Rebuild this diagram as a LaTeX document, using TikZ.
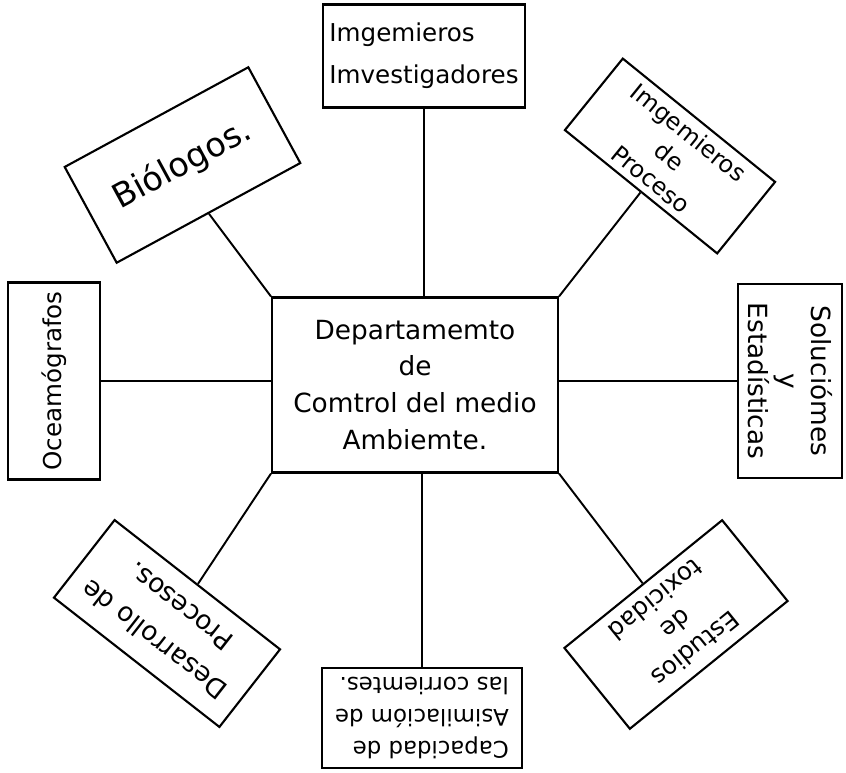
\documentclass[tikz,border=0pt]{standalone}
\usepackage{fontspec}
\setmainfont{DejaVu Sans}

\tikzset{
  cuadro/.style={draw, line width=1.2pt, inner sep=2pt, align=center, font=\fontsize{12.5}{17}\selectfont},
  linea/.style={line width=1.1pt}
}

\begin{document}
\begin{tikzpicture}[x=0.02cm, y=0.02cm]
    \useasboundingbox (0,0) rectangle (846,772);

    \node[cuadro, minimum width=5.72cm, minimum height=3.5cm, font=\fontsize{15}{21}\selectfont] (depto) at (415,387) {Departamemto\\de\\Comtrol del medio\\Ambiemte.};

    \node[cuadro, minimum width=4.04cm, minimum height=2.06cm, align=left, font=\fontsize{14}{24}\selectfont] (invest) at (424,716) {Imgemieros\\Imvestigadores};
    \node[cuadro, rotate=-39, minimum width=3.92cm, minimum height=1.84cm, font=\fontsize{13.5}{17}\selectfont] (proceso) at (670,616) {Imgemieros\\de\\Proceso};
    \node[cuadro, rotate=-90, minimum width=3.88cm, minimum height=2.08cm, font=\fontsize{15}{18}\selectfont] (soluc) at (790,391) {Soluciómes\\y\\Estadísticas};
    \node[cuadro, rotate=90, minimum width=3.94cm, minimum height=1.84cm, font=\fontsize{14}{16}\selectfont] (oceano) at (54,391) {Oceamógrafos};
    \node[cuadro, rotate=28.5, minimum width=4.18cm, minimum height=2.18cm, font=\fontsize{19}{22}\selectfont] (biolog) at (182.5,607) {Biólogos.};
    \node[cuadro, rotate=219, minimum width=4.06cm, minimum height=2.08cm, font=\fontsize{14}{18}\selectfont] (toxic) at (676,147.5) {Estudios\\de\\toxicidad};
    \node[cuadro, rotate=180, minimum width=4cm, minimum height=2cm, align=left, font=\fontsize{13}{18}\selectfont] (capac) at (422,54) {Capacidad de\\Asimilacióm de\\las corriemtes.};
    \node[cuadro, rotate=142, minimum width=4.2cm, minimum height=1.97cm, font=\fontsize{15}{24}\selectfont] (desarr) at (167,148.5) {Desarrollo de\\Procesos.};

    \draw[linea] (biolog.south) -- (depto.north west);
    \draw[linea] (invest.south) -- (invest.south |- depto.north);
    \draw[linea] (proceso.south) -- (depto.north east);
    \draw[linea] (soluc.south) -- (soluc.south -| depto.east);
    \draw[linea] (oceano.south) -- (oceano.south -| depto.west);
    \draw[linea] (toxic.south) -- (depto.south east);
    \draw[linea] (capac.south) -- (capac.south |- depto.south);
    \draw[linea] (desarr.south) -- (depto.south west);
\end{tikzpicture}
\end{document}
